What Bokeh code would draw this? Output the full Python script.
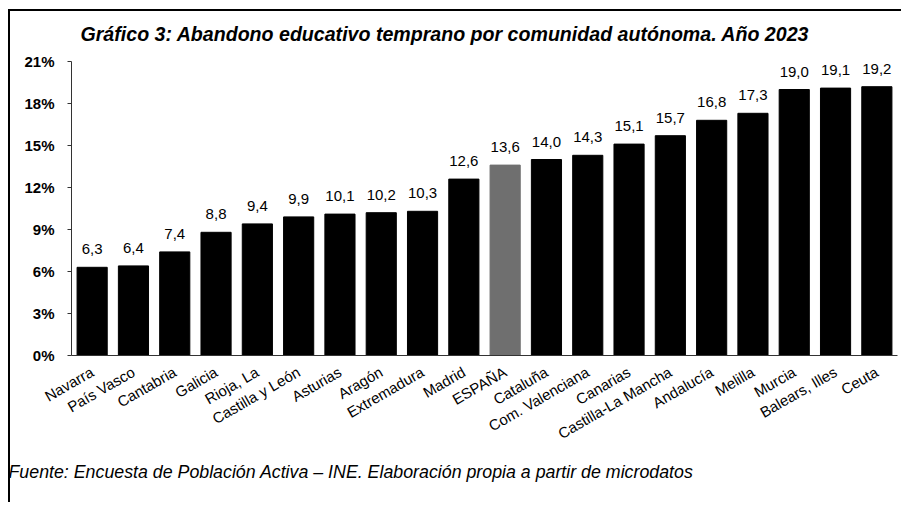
import math
from bokeh.plotting import figure
from bokeh.models import ColumnDataSource, FixedTicker, PrintfTickFormatter, Title
from bokeh.core.properties import value
from bokeh.embed import file_html
from bokeh.resources import INLINE

categories = ["Navarra", "País Vasco", "Cantabria", "Galicia", "Rioja, La",
              "Castilla y León", "Asturias", "Aragón", "Extremadura", "Madrid",
              "ESPAÑA", "Cataluña", "Com. Valenciana", "Canarias",
              "Castilla-La Mancha", "Andalucía", "Melilla", "Murcia",
              "Balears, Illes", "Ceuta"]
values = [6.3, 6.4, 7.4, 8.8, 9.4, 9.9, 10.1, 10.2, 10.3, 12.6,
          13.6, 14.0, 14.3, 15.1, 15.7, 16.8, 17.3, 19.0, 19.1, 19.2]
y_ticks = [0, 3, 6, 9, 12, 15, 18, 21]
highlight = "ESPAÑA"

FONT = "Liberation Sans"

colors = ["#6f6f6f" if c == highlight else "#000000" for c in categories]
labels = [f"{v:.1f}".replace(".", ",") for v in values]
src = ColumnDataSource(dict(cat=categories, val=values, color=colors, lab=labels))

p = figure(x_range=categories, y_range=(0, 21), width=901, height=502,
           output_backend="svg", toolbar_location=None,
           min_border_left=71, min_border_right=4, min_border_top=61,
           min_border_bottom=147)

# frame line (top and left edges of the surrounding box) drawn as host background
p.styles = {
    "background-color": "white",
    "background-image": "linear-gradient(#000,#000), linear-gradient(#000,#000)",
    "background-position": "8px 9px, 8px 9px",
    "background-size": "2px 100%, 100% 2px",
    "background-repeat": "no-repeat",
}

p.vbar(x="cat", top="val", width=0.73, color="color", source=src)
p.text(x="cat", y="val", text="lab", source=src, text_align="center",
       text_baseline="alphabetic", y_offset=-18, text_font=value(FONT),
       text_font_size="15px", text_color="#000000")

p.outline_line_color = None
p.xgrid.grid_line_color = None
p.ygrid.grid_line_color = None
p.background_fill_color = None
p.border_fill_color = None

ya = p.yaxis[0]
ya.ticker = FixedTicker(ticks=y_ticks)
ya.formatter = PrintfTickFormatter(format="%d%%")
ya.major_label_text_font = FONT
ya.major_label_text_font_style = "bold"
ya.major_label_text_font_size = "15px"
ya.major_label_text_color = "#000000"
ya.major_tick_in = 0
ya.major_tick_out = 4
ya.minor_tick_line_color = None
ya.axis_line_color = "#333333"
ya.major_tick_line_color = "#333333"
ya.major_label_standoff = 13

xa = p.xaxis[0]
xa.major_label_orientation = math.radians(30)
xa.major_label_text_font = FONT
xa.major_label_text_font_size = "15px"
xa.major_label_text_color = "#000000"
xa.major_tick_line_color = None
xa.axis_line_color = "#333333"
xa.major_label_standoff = 9

t = Title(text="Gráfico 3: Abandono educativo temprano por comunidad autónoma. Año 2023",
          text_font=FONT, text_font_style="bold italic", text_font_size="19.6px",
          text_color="#000000", align="left", offset=9, standoff=33)
p.add_layout(t, "above")

foot = Title(text="Fuente: Encuesta de Población Activa – INE. Elaboración propia a partir de microdatos",
             text_font=FONT, text_font_style="italic", text_font_size="17.8px",
             text_color="#000000", align="left", offset=-63, standoff=14)
p.add_layout(foot, "below")

open("out.html", "w").write(file_html(p, INLINE))
